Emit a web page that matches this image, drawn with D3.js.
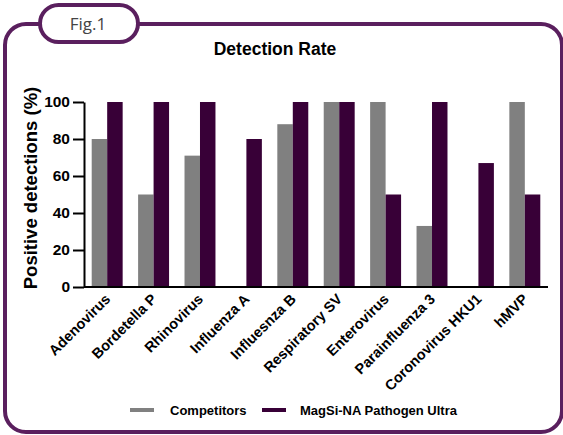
<!DOCTYPE html>
<html>
<head>
<meta charset="utf-8">
<script src="https://cdn.jsdelivr.net/npm/d3@7"></script>
<style>
  body { margin: 0; background: #fff; }
  svg { display: block; }
  .axis path, .axis line { stroke: #000; stroke-width: 2; }
  .axis text { font-weight: bold; fill: #000; }
</style>
</head>
<body>
<div id="chart"></div>
<script>
const categories = ["Adenovirus", "Bordetella P", "Rhinovirus", "Influenza A", "Influesnza B",
  "Respiratory SV", "Enterovirus", "Parainfluenza 3", "Coronovirus HKU1", "hMVP"];
const competitors = [80, 50, 71, 0, 88, 100, 100, 33, 0, 100];
const magsi = [100, 100, 100, 80, 100, 100, 50, 100, 67, 50];
const seriesNames = ["Competitors", "MagSi-NA Pathogen Ultra"];
const yTicks = [0, 20, 40, 60, 80, 100];

const width = 563, height = 435;
const font = "'Liberation Sans', Arial, sans-serif";
const frameColor = "#5a1f5e";
const colors = ["#808080", "#380037"];

const svg = d3.select("#chart").append("svg")
  .attr("width", width)
  .attr("height", height);

// frame with the "Fig.1" tab
svg.append("rect")
  .attr("x", 5).attr("y", 24)
  .attr("width", 557).attr("height", 408)
  .attr("rx", 21)
  .attr("fill", "none")
  .attr("stroke", frameColor)
  .attr("stroke-width", 4);

svg.append("rect")
  .attr("x", 40).attr("y", 5)
  .attr("width", 98).attr("height", 37)
  .attr("rx", 18.5)
  .attr("fill", "#fff")
  .attr("stroke", frameColor)
  .attr("stroke-width", 4);

svg.append("text")
  .attr("x", 88).attr("y", 30)
  .attr("text-anchor", "middle")
  .attr("font-family", "'Open Sans', Lato, sans-serif")
  .attr("font-size", 17)
  .attr("fill", "#444")
  .text("Fig.1");

const x0 = 84, x1 = 548, yBottom = 287, yTop = 102;

const x = d3.scaleBand()
  .domain(categories)
  .range([x0, x1])
  .paddingInner(0.333)
  .paddingOuter(0.166);

const xs = d3.scaleBand()
  .domain(seriesNames)
  .range([0, x.bandwidth()]);

const y = d3.scaleLinear()
  .domain([0, 100])
  .range([yBottom, yTop]);

svg.append("text")
  .attr("x", 275).attr("y", 55)
  .attr("text-anchor", "middle")
  .attr("font-family", font)
  .attr("font-weight", "bold")
  .attr("font-size", 17.5)
  .text("Detection Rate");

const rows = categories.map((c, i) => ({ cat: c, vals: [competitors[i], magsi[i]] }));

const groups = svg.append("g").selectAll("g")
  .data(rows)
  .join("g")
  .attr("transform", d => `translate(${x(d.cat)},0)`);

groups.selectAll("rect")
  .data(d => d.vals.map((v, i) => ({ name: seriesNames[i], v: v, i: i })))
  .join("rect")
  .attr("x", d => xs(d.name))
  .attr("y", d => y(d.v))
  .attr("width", xs.bandwidth())
  .attr("height", d => yBottom - y(d.v))
  .attr("fill", d => colors[d.i]);

// y axis
const yAxis = svg.append("g")
  .attr("class", "axis")
  .attr("transform", `translate(${x0},0)`)
  .call(d3.axisLeft(y).tickValues(yTicks).tickSize(11).tickSizeOuter(0).tickPadding(3));
yAxis.attr("font-family", font).attr("font-size", 15.5);

// x axis
const xAxis = svg.append("g")
  .attr("class", "axis")
  .attr("transform", `translate(0,${yBottom})`)
  .call(d3.axisBottom(x).tickSize(0).tickSizeOuter(0).tickPadding(0));
xAxis.attr("font-family", font).attr("font-size", 14.5);
xAxis.select(".domain").attr("d", `M${x0},0H${x1}`);
xAxis.selectAll("text")
  .attr("text-anchor", "end")
  .attr("dy", 0)
  .attr("transform", "translate(4,13) rotate(-45)");

svg.append("text")
  .attr("transform", `translate(37,188) rotate(-90)`)
  .attr("text-anchor", "middle")
  .attr("font-family", font)
  .attr("font-weight", "bold")
  .attr("font-size", 18.5)
  .text("Positive detections (%)");

// legend
const legendX = [130, 262];
const legendTextX = [170, 300];
const legend = svg.append("g").selectAll("g")
  .data(seriesNames)
  .join("g");
legend.append("rect")
  .attr("x", (d, i) => legendX[i])
  .attr("y", 408)
  .attr("width", 24)
  .attr("height", 4)
  .attr("fill", (d, i) => colors[i]);
legend.append("text")
  .attr("x", (d, i) => legendTextX[i])
  .attr("y", 414.5)
  .attr("font-family", font)
  .attr("font-weight", "bold")
  .attr("font-size", 13)
  .text(d => d);
</script>
</body>
</html>
